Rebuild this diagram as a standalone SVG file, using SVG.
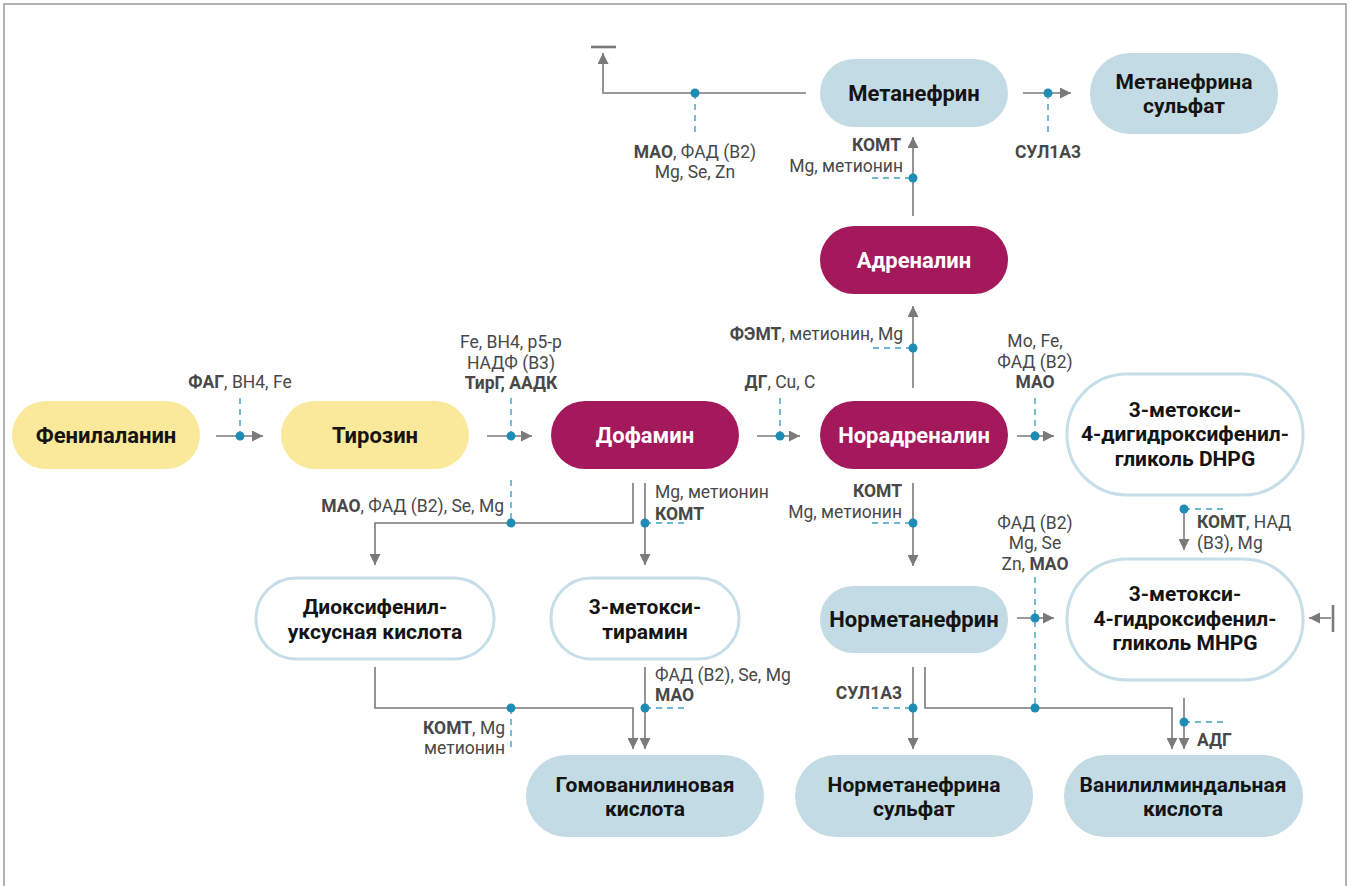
<svg xmlns="http://www.w3.org/2000/svg" width="1351" height="886" viewBox="0 0 1351 886">
<defs>
<marker id="ah" viewBox="0 0 10 10" refX="10" refY="5" markerWidth="11" markerHeight="11" markerUnits="userSpaceOnUse" orient="auto"><path d="M0,0 L10,5 L0,10 z" fill="#7a7a7a"/></marker>
<style>
.yel{fill:#fbe99b}
.cri{fill:#a3195b}
.blu{fill:#c3dbe5}
.out{fill:#ffffff;stroke:#c6dee8;stroke-width:3}
.nt{font-family:Roboto,"Liberation Sans",sans-serif;font-weight:700;font-size:22px;fill:#141414;text-anchor:middle}
.nt2{font-family:Roboto,"Liberation Sans",sans-serif;font-weight:700;font-size:21px;fill:#141414;text-anchor:middle}
.wt{fill:#ffffff}
.ln{fill:none;stroke:#7a7a7a;stroke-width:1.6}
.arr{marker-end:url(#ah)}
.bar{fill:none;stroke:#7a7a7a;stroke-width:2.6}
.ds{fill:none;stroke:#3f9fc3;stroke-width:1.4;stroke-dasharray:6 5}
.dot{fill:#1f8cb6}
.lb{font-family:Roboto,"Liberation Sans",sans-serif;font-size:17.5px;fill:#484848}
.c{text-anchor:middle}
.e{text-anchor:end}
.b{font-weight:700}
.frame{fill:none;stroke:#9a9a9a;stroke-width:1.5}
</style>
</defs>
<path class="frame" d="M4,886 V4 H1346 V886"/>

<g id="connectors">
<path class="ln arr" d="M216,436 H263"/>
<path class="ds" d="M240,398 V436"/><circle class="dot" cx="240" cy="436" r="4.5"/>
<path class="ln arr" d="M487,436 H532"/>
<path class="ds" d="M511,398 V436"/><circle class="dot" cx="511" cy="436" r="4.5"/>
<path class="ln arr" d="M757,436 H800"/>
<path class="ds" d="M780,398 V436"/><circle class="dot" cx="780" cy="436" r="4.5"/>
<path class="ln arr" d="M1017,436 H1054"/>
<path class="ds" d="M1035,398 V436"/><circle class="dot" cx="1035" cy="436" r="4.5"/>
<path class="ln arr" d="M913,388 V306"/>
<path class="ds" d="M873,348 H913"/><circle class="dot" cx="913" cy="348" r="4.5"/>
<path class="ln arr" d="M913,216 V137"/>
<path class="ds" d="M872,178 H913"/><circle class="dot" cx="913" cy="178" r="4.5"/>
<path class="ln arr" d="M1023,93 H1071"/>
<path class="ds" d="M1048,93 V135"/><circle class="dot" cx="1048" cy="93" r="4.5"/>
<path class="ln arr" d="M806,93 H603 V53"/>
<path class="bar" d="M591,47 H616"/>
<path class="ds" d="M695,93 V133"/><circle class="dot" cx="695" cy="93" r="4.5"/>
<path class="ln arr" d="M633,483 V523 H375 V565"/>
<path class="ds" d="M511,480 V523"/><circle class="dot" cx="511" cy="523" r="4.5"/>
<path class="ln arr" d="M645,483 V565"/>
<path class="ds" d="M645,523 H686"/><circle class="dot" cx="645" cy="523" r="4.5"/>
<path class="ln arr" d="M375,667 V708 H633 V749"/>
<path class="ds" d="M511,708 V752"/><circle class="dot" cx="511" cy="708" r="4.5"/>
<path class="ln arr" d="M645,667 V749"/>
<path class="ds" d="M645,708 H686"/><circle class="dot" cx="645" cy="708" r="4.5"/>
<path class="ln arr" d="M913,483 V566"/>
<path class="ds" d="M872,523 H913"/><circle class="dot" cx="913" cy="523" r="4.5"/>
<path class="ln arr" d="M1017,618 H1054"/>
<path class="ds" d="M1035,577 V708"/><circle class="dot" cx="1035" cy="618" r="4.5"/>
<path class="ln arr" d="M913,667 V749"/>
<path class="ds" d="M872,708 H913"/><circle class="dot" cx="913" cy="708" r="4.5"/>
<path class="ln arr" d="M925,667 V708 H1172 V749"/>
<circle class="dot" cx="1035" cy="708" r="4.5"/>
<path class="ln arr" d="M1184,698 V749"/>
<path class="ds" d="M1184,722 H1225"/><circle class="dot" cx="1184" cy="722" r="4.5"/>
<path class="ln arr" d="M1184,510 V550"/>
<path class="ds" d="M1184,509 H1224"/><circle class="dot" cx="1184" cy="509" r="4.5"/>
<path class="ln arr" d="M1331,618 H1309"/>
<path class="bar" d="M1333,605 V632"/>

<text class="lb c" x="240" y="388"><tspan class="b">ФАГ</tspan>, BH4, Fe</text>
<text class="lb c" x="511" y="348">Fe, BH4, p5-p</text>
<text class="lb c" x="511" y="369">НАДФ (В3)</text>
<text class="lb c b" x="511" y="389">ТирГ, ААДК</text>
<text class="lb c" x="780" y="388"><tspan class="b">ДГ</tspan>, Cu, C</text>
<text class="lb c" x="1035" y="347">Mo, Fe,</text>
<text class="lb c" x="1035" y="368">ФАД (В2)</text>
<text class="lb c b" x="1035" y="388">МАО</text>
<text class="lb e" x="903" y="340"><tspan class="b">ФЭМТ</tspan>, метионин, Mg</text>
<text class="lb e b" x="901" y="151">КОМТ</text>
<text class="lb e" x="903" y="172">Mg, метионин</text>
<text class="lb c b" x="1048" y="158">СУЛ1А3</text>
<text class="lb c" x="695" y="158"><tspan class="b">МАО</tspan>, ФАД (В2)</text>
<text class="lb c" x="695" y="178">Mg, Se, Zn</text>
<text class="lb e" x="504" y="512"><tspan class="b">МАО</tspan>, ФАД (В2), Se, Mg</text>
<text class="lb" x="655" y="498">Mg, метионин</text>
<text class="lb b" x="655" y="520">КОМТ</text>
<text class="lb e" x="505" y="734"><tspan class="b">КОМТ</tspan>, Mg</text>
<text class="lb e" x="505" y="754">метионин</text>
<text class="lb" x="655" y="681">ФАД (В2), Se, Mg</text>
<text class="lb b" x="655" y="701">МАО</text>
<text class="lb e b" x="902" y="497">КОМТ</text>
<text class="lb e" x="902" y="518">Mg, метионин</text>
<text class="lb c" x="1035" y="529">ФАД (В2)</text>
<text class="lb c" x="1035" y="549">Mg, Se</text>
<text class="lb c" x="1035" y="570">Zn, <tspan class="b">МАО</tspan></text>
<text class="lb e b" x="902" y="699">СУЛ1А3</text>
<text class="lb b" x="1197" y="746">АДГ</text>
<text class="lb" x="1197" y="528"><tspan class="b">КОМТ</tspan>, НАД</text>
<text class="lb" x="1197" y="549">(В3), Mg</text>
</g>

<g id="n-phenylalanine"><rect class="yel" x="12" y="401" width="188" height="68" rx="34"/><text class="nt" x="106" y="443">Фенилаланин</text></g>
<g id="n-tyrosine"><rect class="yel" x="281" y="401" width="188" height="68" rx="34"/><text class="nt" x="375" y="443">Тирозин</text></g>
<g id="n-dopamine"><rect class="cri" x="551" y="401" width="188" height="68" rx="34"/><text class="nt wt" x="645" y="443">Дофамин</text></g>
<g id="n-noradrenaline"><rect class="cri" x="820" y="401" width="188" height="68" rx="34"/><text class="nt wt" x="914" y="443">Норадреналин</text></g>
<g id="n-dhpg"><rect class="out" x="1067" y="374" width="236" height="121" rx="60"/><text class="nt2" x="1185" y="417">3-метокси-</text><text class="nt2" x="1185" y="441">4-дигидроксифенил-</text><text class="nt2" x="1185" y="466">гликоль DHPG</text></g>
<g id="n-adrenaline"><rect class="cri" x="820" y="226" width="188" height="68" rx="34"/><text class="nt wt" x="914" y="268">Адреналин</text></g>
<g id="n-metanephrine"><rect class="blu" x="820" y="59" width="188" height="68" rx="34"/><text class="nt" x="914" y="101">Метанефрин</text></g>
<g id="n-metanephrine-sulfate"><rect class="blu" x="1090" y="53" width="188" height="81" rx="40"/><text class="nt2" x="1184" y="89">Метанефрина</text><text class="nt2" x="1184" y="113">сульфат</text></g>
<g id="n-dopac"><rect class="out" x="256" y="578" width="238" height="81" rx="40"/><text class="nt2" x="375" y="614">Диоксифенил-</text><text class="nt2" x="375" y="639">уксусная кислота</text></g>
<g id="n-3mt"><rect class="out" x="551" y="578" width="188" height="81" rx="40"/><text class="nt2" x="645" y="614">3-метокси-</text><text class="nt2" x="645" y="639">тирамин</text></g>
<g id="n-normetanephrine"><rect class="blu" x="820" y="586" width="188" height="67" rx="33"/><text class="nt" x="914" y="627">Норметанефрин</text></g>
<g id="n-mhpg"><rect class="out" x="1067" y="559" width="236" height="121" rx="60"/><text class="nt2" x="1185" y="601">3-метокси-</text><text class="nt2" x="1185" y="626">4-гидроксифенил-</text><text class="nt2" x="1185" y="650">гликоль MHPG</text></g>
<g id="n-hva"><rect class="blu" x="526" y="755" width="238" height="82" rx="41"/><text class="nt2" x="645" y="792">Гомованилиновая</text><text class="nt2" x="645" y="816">кислота</text></g>
<g id="n-normetanephrine-sulfate"><rect class="blu" x="795" y="755" width="238" height="82" rx="41"/><text class="nt2" x="914" y="792">Норметанефрина</text><text class="nt2" x="914" y="816">сульфат</text></g>
<g id="n-vma"><rect class="blu" x="1064" y="755" width="239" height="82" rx="41"/><text class="nt2" x="1183" y="792">Ванилилминдальная</text><text class="nt2" x="1183" y="816">кислота</text></g>
</svg>
